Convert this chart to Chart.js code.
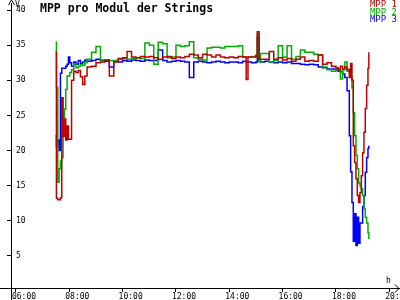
<!DOCTYPE html>
<html>
<head>
<meta charset="utf-8">
<script src="https://cdn.jsdelivr.net/npm/chart.js@4"></script>
<style>
  html, body { margin: 0; padding: 0; background: #fff; }
  #wrap { width: 400px; height: 300px; }
</style>
</head>
<body>
<div id="wrap"><canvas id="mppChart"></canvas></div>
<script>
// sample times (hh:mm)
const times = [
  '07:29','07:31','07:34','07:37','07:40','07:43','07:46','07:49','07:52','07:55','07:58',
  '08:01','08:05','08:10','08:15','08:20','08:25','08:30','08:35','08:40','08:50',
  '09:00','09:10','09:20','09:30','09:40','09:50',
  '10:00','10:10','10:20','10:30','10:40','10:50',
  '11:00','11:10','11:20','11:30','11:40','11:50',
  '12:00','12:10','12:20','12:30','12:40','12:50',
  '13:00','13:10','13:20','13:30','13:40','13:50',
  '14:00','14:10','14:20','14:30','14:38','14:42','14:50',
  '15:00','15:03','15:07','15:10','15:20','15:30','15:40','15:50',
  '16:00','16:10','16:20','16:30','16:40','16:50',
  '17:00','17:10','17:20','17:30','17:40','17:50',
  '18:00','18:05','18:10','18:15','18:20','18:25','18:30','18:33','18:36','18:39','18:42','18:45','18:48','18:51','18:54','18:57',
  '19:00','19:03','19:06','19:09','19:12','19:14'
];

// volts per module
const mpp1 = [
  34.0,13.2,13.0,13.0,13.3,27.5,22.0,24.5,21.5,23.5,21.6,
  21.6,30.0,31.3,31.1,31.4,30.5,29.4,30.6,31.9,32.0,
  32.5,32.6,32.9,30.6,32.6,33.1,
  33.2,34.1,33.3,33.2,33.4,33.3,
  33.4,33.2,33.0,33.3,33.4,33.1,
  33.3,33.2,33.4,33.7,33.6,33.2,
  33.7,33.6,33.3,33.6,33.3,33.2,
  33.3,33.2,33.4,33.3,30.1,33.3,33.3,
  33.5,36.9,33.0,33.0,33.0,34.1,33.0,33.2,
  32.9,33.1,32.7,33.0,33.3,32.7,
  32.8,32.7,33.6,32.3,32.5,32.0,
  31.8,31.5,32.0,31.6,31.9,31.5,30.4,32.4,30.0,20.7,18.3,16.0,13.6,12.6,14.0,16.4,
  19.7,22.6,26.0,29.3,31.7,34.0
];
const mpp2 = [
  35.4,29.0,15.5,17.4,18.5,19.0,23.0,25.9,28.7,30.6,30.6,
  31.1,31.5,32.3,31.8,32.0,32.2,32.1,32.5,33.0,34.0,
  34.8,32.9,32.9,32.8,32.8,33.0,
  33.1,33.0,33.1,33.2,33.1,35.3,
  35.0,32.3,35.4,35.2,33.2,33.3,
  35.0,34.8,34.9,35.5,33.2,33.0,
  32.9,34.6,34.7,34.7,34.6,34.8,
  34.8,34.8,34.9,33.3,33.3,33.3,33.4,
  33.6,36.6,32.6,33.8,33.8,32.6,32.8,34.9,
  33.3,34.9,33.0,33.4,34.3,34.0,
  34.0,33.7,33.6,31.9,31.5,31.3,
  31.8,31.6,30.2,31.5,32.6,31.3,31.6,30.5,28.9,25.4,22.1,19.3,17.4,15.4,15.0,14.6,
  13.6,11.7,10.5,9.7,8.3,7.4
];
const mpp3 = [
  22.1,20.5,21.5,20.0,31.0,31.7,31.7,31.7,32.0,32.3,33.3,
  32.5,32.0,32.6,32.3,32.8,32.4,32.6,32.9,32.7,32.8,
  33.0,32.8,32.7,31.9,32.7,32.6,
  32.8,32.7,32.9,32.8,32.7,32.9,
  32.8,32.8,34.3,32.8,32.6,32.7,
  32.8,32.7,32.6,30.4,32.6,32.7,
  32.6,32.5,32.6,32.7,32.6,32.5,
  32.6,32.6,32.5,32.7,32.6,32.6,32.5,
  32.6,36.1,32.9,32.6,32.7,32.6,32.5,32.6,
  32.5,32.6,32.4,32.4,32.3,32.2,
  32.3,32.2,31.9,31.8,31.6,31.6,
  31.5,31.3,31.2,30.9,30.4,28.5,22.1,17.0,12.6,7.1,11.0,6.5,10.5,6.8,9.7,9.7,
  12.0,13.6,16.9,19.0,20.3,20.7
];

const seriesNames = ['MPP 1', 'MPP 2', 'MPP 3'];
const seriesColors = ['#c00000', '#00b000', '#0000ff'];
const hourTicks = [6, 8, 10, 12, 14, 16, 18, 20];
const voltTicks = [5, 10, 15, 20, 25, 30, 35, 40];

const MONO = '"DejaVu Sans Mono", "Liberation Mono", monospace';

function toHours(s) {
  const [h, m] = s.split(':').map(Number);
  return h + m / 60;
}
function toPoints(vals) {
  return vals.map((v, i) => ({ x: toHours(times[i]), y: v }));
}
function pad2(n) { return (n < 10 ? '0' : '') + n; }

// axis arrows, units, title and legend
const decorPlugin = {
  id: 'decor',
  afterDraw(chart) {
    const { ctx, chartArea: a } = chart;
    ctx.save();
    ctx.strokeStyle = '#000';
    ctx.lineWidth = 1;
    ctx.beginPath();
    // axis lines run past the crossing
    ctx.moveTo(0, a.bottom + 0.5); ctx.lineTo(a.left, a.bottom + 0.5);
    ctx.moveTo(a.left + 0.5, a.bottom); ctx.lineTo(a.left + 0.5, chart.height);
    // y arrow
    ctx.moveTo(a.left - 3 + 0.5, a.top + 2); ctx.lineTo(a.left + 0.5, a.top - 3); ctx.lineTo(a.left + 3.5, a.top + 2);
    // x arrow
    ctx.moveTo(a.right - 4, a.bottom - 4 + 0.5); ctx.lineTo(a.right, a.bottom + 0.5); ctx.lineTo(a.right - 4, a.bottom + 4 + 0.5);
    ctx.stroke();

    ctx.fillStyle = '#000';
    ctx.font = '8px ' + MONO;
    ctx.textBaseline = 'alphabetic';
    ctx.textAlign = 'left';
    ctx.fillText('V', a.left + 4, a.top + 4);
    ctx.fillText('h', a.right - 13, a.bottom - 5);

    ctx.font = 'bold 11.5px ' + MONO;
    ctx.fillText('MPP pro Modul der Strings', 40, 12);

    ctx.font = '9px ' + MONO;
    ctx.textAlign = 'right';
    seriesNames.forEach((name, i) => {
      ctx.fillStyle = seriesColors[i];
      ctx.fillText(name, chart.width - 3, 7 + i * 7.5);
    });
    ctx.restore();
  }
};

const ctx = document.getElementById('mppChart').getContext('2d');
new Chart(ctx, {
  type: 'line',
  data: {
    datasets: [mpp1, mpp2, mpp3].map((vals, i) => ({
      label: seriesNames[i],
      data: toPoints(vals),
      borderColor: seriesColors[i],
      borderWidth: 1.5,
      pointRadius: 0,
      stepped: true,
      fill: false
    }))
  },
  options: {
    responsive: true,
    maintainAspectRatio: false,
    animation: false,
    devicePixelRatio: 1,
    layout: { padding: { top: 3, right: 1, left: 0, bottom: 0 } },
    plugins: { legend: { display: false }, tooltip: { enabled: false } },
    scales: {
      x: {
        type: 'linear',
        min: 5.8125,
        max: 20.364,
        afterBuildTicks: s => { s.ticks = hourTicks.map(v => ({ value: v })); },
        afterFit: s => { s.height = 12; s.paddingLeft = 0; s.paddingRight = 0; },
        border: { display: true, color: '#000', width: 1 },
        grid: { drawOnChartArea: false, color: '#000', tickLength: 4 },
        ticks: {
          color: '#000',
          font: { family: MONO, size: 8 },
          padding: 0,
          labelOffset: 8,
          maxRotation: 0,
          autoSkip: false,
          callback: v => pad2(v) + ':00'
        }
      },
      y: {
        min: 0.44,
        max: 41,
        afterBuildTicks: s => { s.ticks = voltTicks.map(v => ({ value: v })); },
        afterFit: s => { s.width = 11; s.paddingTop = 0; s.paddingBottom = 0; },
        border: { display: true, color: '#000', width: 1 },
        grid: { drawOnChartArea: false, color: '#000', tickLength: 4 },
        ticks: {
          color: '#000',
          font: { family: MONO, size: 8 },
          mirror: true,
          padding: 5,
          autoSkip: false
        }
      }
    }
  },
  plugins: [decorPlugin]
});
</script>
</body>
</html>
